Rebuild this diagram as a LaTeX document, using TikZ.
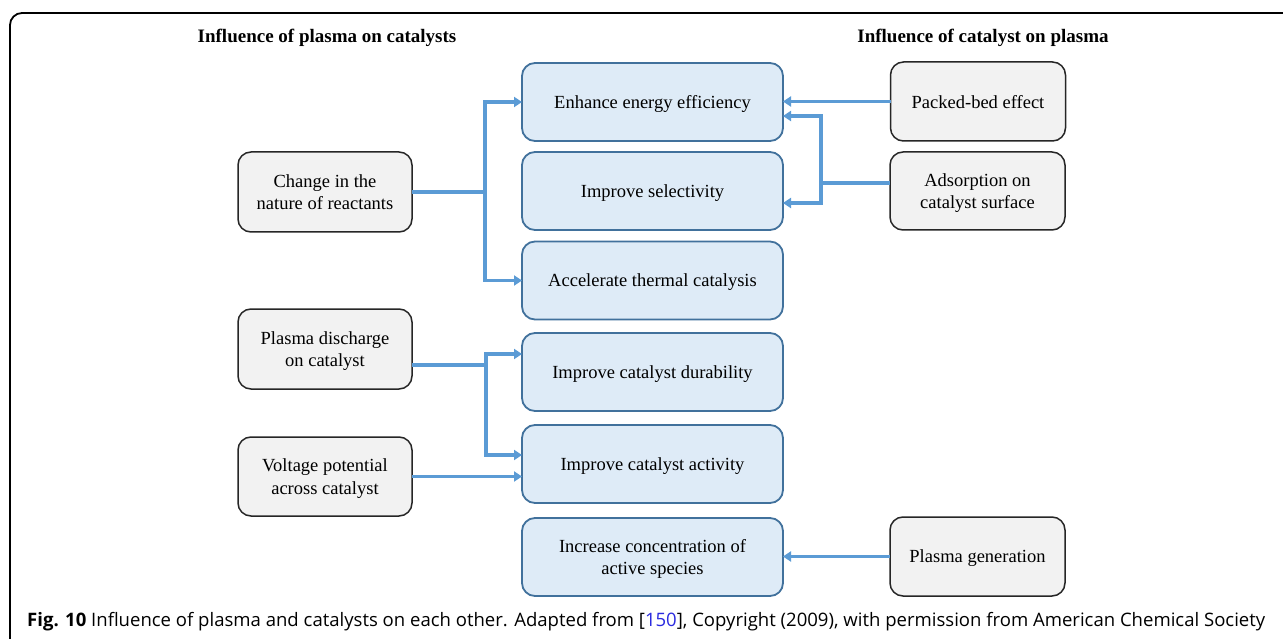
\documentclass[tikz,border=0pt]{standalone}
\usepackage{fontspec}
\setmainfont{Liberation Serif}
\newfontfamily\capfont{Open Sans}
\usetikzlibrary{arrows.meta}
\definecolor{fillblue}{HTML}{DEEBF7}
\definecolor{bordblue}{HTML}{41719C}
\definecolor{arrblue}{HTML}{5B9BD5}
\definecolor{fillgray}{HTML}{F2F2F2}
\definecolor{linkblue}{HTML}{2B2BE0}
\tikzset{
  boxtext/.style={font=\fontsize{18.5}{22.5}\selectfont, align=center, inner sep=0pt, outer sep=0pt, text depth=0pt},
  bluebox/.style={boxtext, draw=bordblue, fill=fillblue, line width=1.8pt, rounded corners=13pt, minimum width=261pt, minimum height=78pt},
  graybox/.style={boxtext, draw=black!85, fill=fillgray, line width=1.5pt, rounded corners=13pt, minimum width=175pt, minimum height=79pt},
  title/.style={font=\bfseries\fontsize{19}{23}\selectfont, inner sep=0pt},
  link/.style={draw=arrblue, line width=3.2pt},
  conn/.style={link, -{Triangle[length=8pt,width=10pt]}},
}
\begin{document}
\begin{tikzpicture}[x=1pt,y=-1pt]
\useasboundingbox (0,0) rectangle (1283,639);
\clip (0,0) rectangle (1283,639);
\fill[white] (0,0) rectangle (1283,639);
% frame
\draw[line width=1.8pt, rounded corners=12pt] (10,720) -- (10,13) -- (1360,13);
% titles
\node[title] (t1) at (327,37.5) {Influence of plasma on catalysts};
\node[title] (t2) at (983,37.5) {Influence of catalyst on plasma};
% middle column
\node[bluebox] (enh) at (652.5,102) {Enhance energy efficiency};
\node[bluebox] (sel) at (652.5,191) {Improve selectivity};
\node[bluebox] (acc) at (652.5,280.5) {Accelerate thermal catalysis};
\node[bluebox] (dur) at (652.5,372) {Improve catalyst durability};
\node[bluebox] (act) at (652.5,464) {Improve catalyst activity};
\node[bluebox] (inc) at (652.5,557) {Increase concentration of\\active species};
% left column
\node[graybox, minimum width=174pt, minimum height=80pt] (chg) at (325,192) {Change in the\\nature of reactants};
\node[graybox, minimum width=174pt, minimum height=80pt] (pd) at (325,349) {Plasma discharge\\on catalyst};
\node[graybox, minimum width=174pt, minimum height=79pt] (volt) at (325,476.5) {Voltage potential\\across catalyst};
% right column
\node[graybox] (pb) at (978,101.5) {Packed-bed effect};
\node[graybox, minimum height=78pt] (ads) at (977.5,191) {Adsorption on\\catalyst surface};
\node[graybox] (pg) at (977.5,556.5) {Plasma generation};
% connectors left
\coordinate (jl) at (485,192);
\draw[link] (chg.east) -- (jl);
\draw[conn] (jl) |- (enh.west);
\draw[conn] (jl) |- (acc.west);
\coordinate (jp) at (486,365);
\draw[link] ([yshift=-16pt]pd.east) -- (jp);
\draw[conn] (jp) |- ([yshift=18pt]dur.west);
\draw[conn] (jp) |- ([yshift=9pt]act.west);
\draw[conn] (volt.east) -- (volt.east -| act.west);
% connectors right
\draw[conn] (pb.west) -- (pb.west -| enh.east);
\coordinate (jr) at (821,183);
\draw[link] ([yshift=8pt]ads.west) -- (jr);
\draw[conn] (jr) |- ([yshift=-14pt]enh.east);
\draw[conn] (jr) |- ([yshift=-12pt]sel.east);
\draw[conn] (pg.west) -- (pg.west -| inc.east);
% caption
\node[anchor=west, inner sep=0pt] (cap) at (27,622) {\resizebox{1238pt}{!}{\capfont\fontsize{20}{24}\selectfont\textbf{Fig. 10} Influence of plasma and catalysts on each other. Adapted from [\textcolor{linkblue}{150}], Copyright (2009), with permission from American Chemical Society}};
\end{tikzpicture}
\end{document}
